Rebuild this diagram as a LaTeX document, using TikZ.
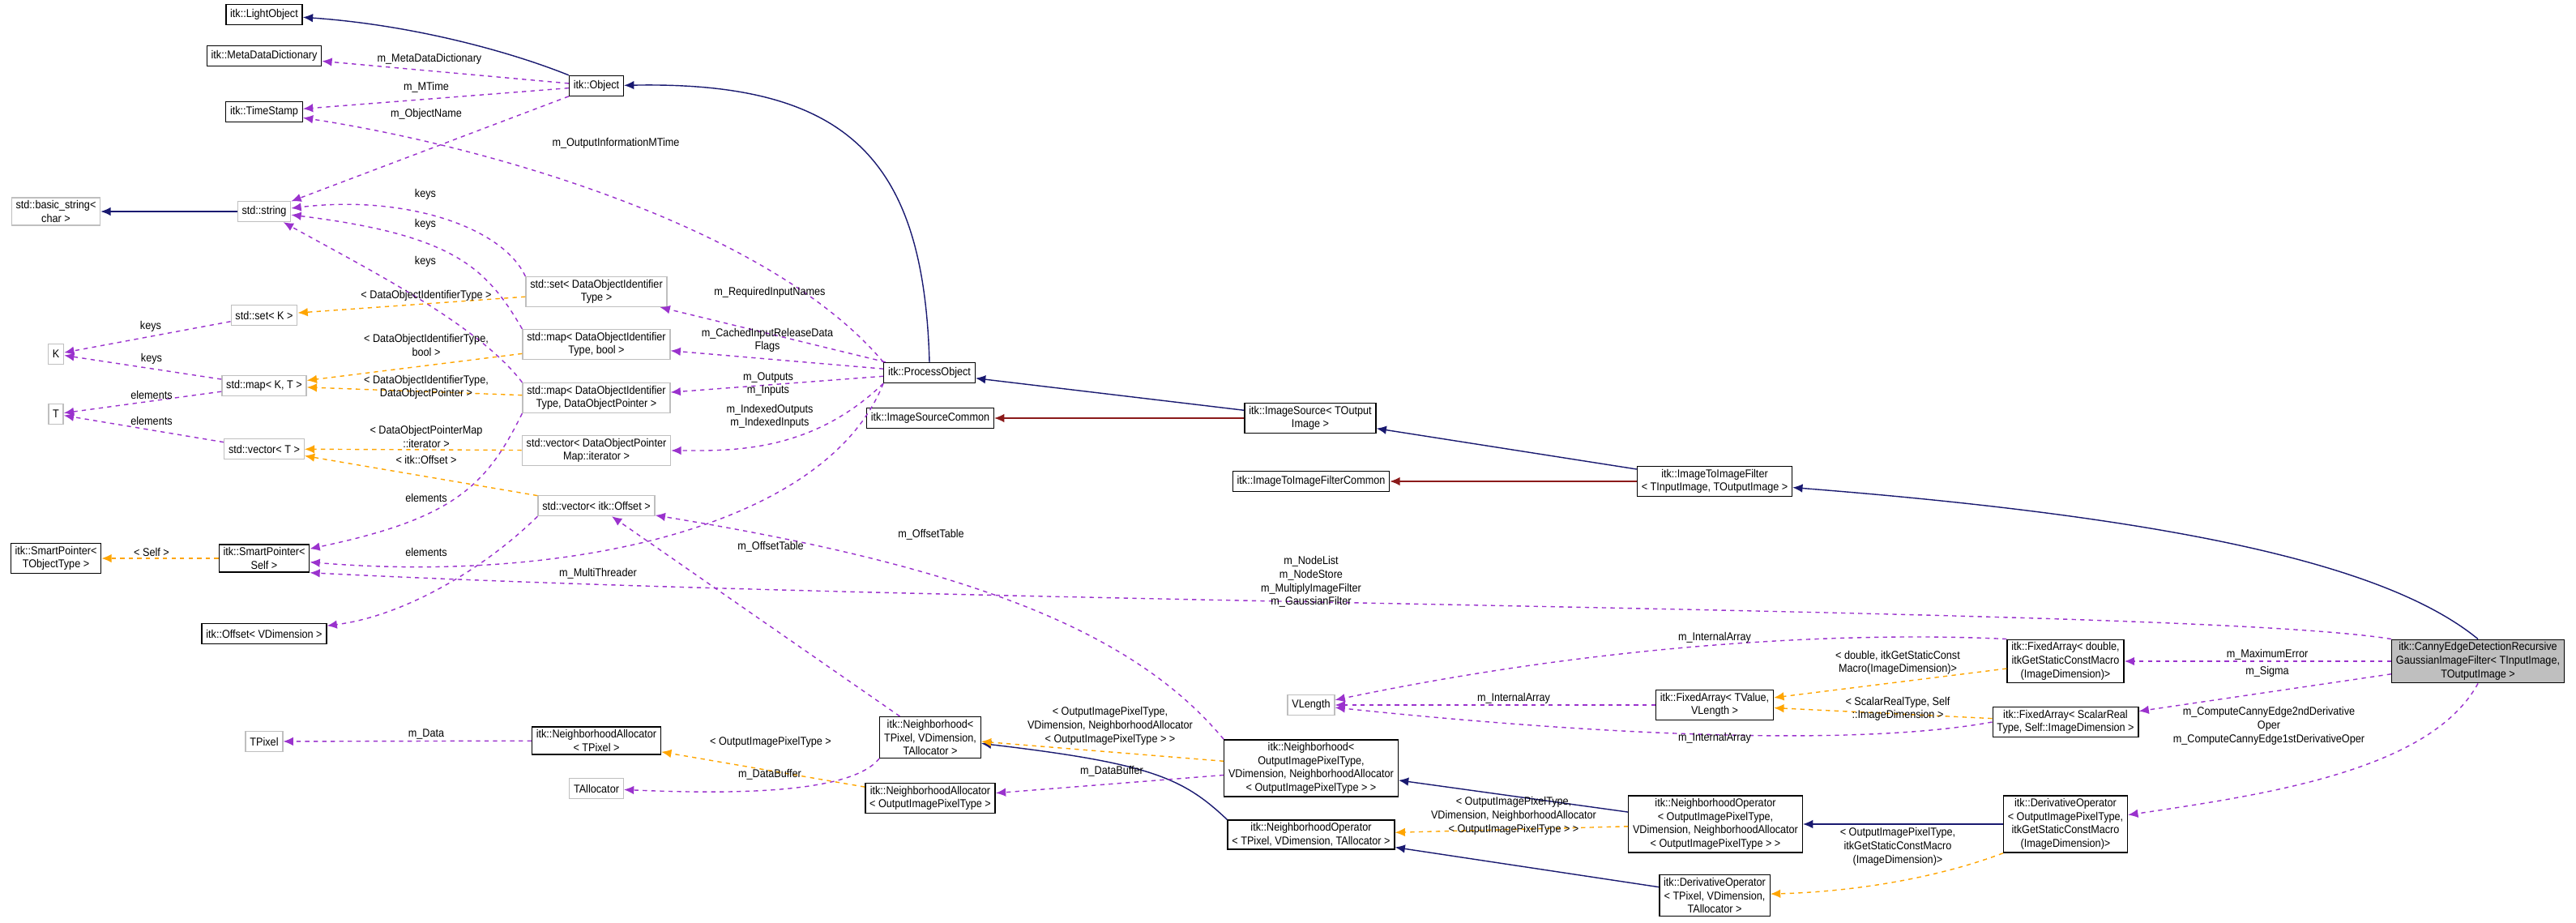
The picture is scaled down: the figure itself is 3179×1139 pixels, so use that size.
\documentclass[tikz,border=0pt]{standalone}
\usepackage{fontspec}
\setmainfont[FakeStretch=0.9]{Liberation Sans}
\usetikzlibrary{arrows.meta}
\definecolor{inhcol}{HTML}{191970}
\definecolor{privcol}{HTML}{8B1A1A}
\definecolor{usecol}{HTML}{9A32CD}
\definecolor{tmplcol}{HTML}{FFA500}
\tikzset{
  cls/.style={draw=black, thick, fill=white, align=center, inner xsep=3pt, inner ysep=2pt, minimum height=0.5cm, font=\fontsize{8}{9.5}\selectfont},
  ext/.style={cls, draw=black!25},
  main/.style={cls, fill=black!25},
  lbl/.style={align=center, inner sep=1pt, font=\fontsize{8}{9.5}\selectfont},
  tip/.style={-{Latex[length=7pt,width=6pt]}},
  inh/.style={tip, draw=inhcol, thick},
  priv/.style={tip, draw=privcol, thick},
  use/.style={tip, draw=usecol, dashed, thick},
  tmpl/.style={tip, draw=tmplcol, dashed, thick}
}
\begin{document}
\begin{tikzpicture}[x=0.02cm, y=-0.02cm]
    \useasboundingbox (0,0) rectangle (3179,1139);

    % itk core objects
    \node[cls] (light) at (326,18) {itk::LightObject};
    \node[cls] (meta) at (326,69) {itk::MetaDataDictionary};
    \node[cls] (stamp) at (326,138) {itk::TimeStamp};
    \node[cls] (object) at (736,106) {itk::Object};
    \node[ext] (bstring) at (69,261) {std::basic\_string\textless\\char \textgreater};
    \node[ext] (string) at (326,261) {std::string};
    \node[ext] (setk) at (326,389) {std::set\textless{} K \textgreater};
    \node[ext] (k) at (69,437) {K};
    \node[ext] (mapkt) at (326,476) {std::map\textless{} K, T \textgreater};
    \node[ext] (t) at (69,511) {T};
    \node[ext] (vect) at (326,554) {std::vector\textless{} T \textgreater};
    \node[cls] (sptype) at (69,689) {itk::SmartPointer\textless\\TObjectType \textgreater};
    \node[cls] (spself) at (326,689) {itk::SmartPointer\textless\\Self \textgreater};
    \node[cls] (offset) at (326,782) {itk::Offset\textless{} VDimension \textgreater};

    % containers of the process object
    \node[ext] (setid) at (736,360) {std::set\textless{} DataObjectIdentifier\\Type \textgreater};
    \node[ext] (mapbool) at (736,425) {std::map\textless{} DataObjectIdentifier\\Type, bool \textgreater};
    \node[ext] (mapptr) at (736,491) {std::map\textless{} DataObjectIdentifier\\Type, DataObjectPointer \textgreater};
    \node[ext] (vecit) at (736,556) {std::vector\textless{} DataObjectPointer\\Map::iterator \textgreater};
    \node[ext] (vecoff) at (736,624) {std::vector\textless{} itk::Offset \textgreater};

    % filter hierarchy
    \node[cls] (process) at (1147,460) {itk::ProcessObject};
    \node[cls] (srccommon) at (1148,516) {itk::ImageSourceCommon};
    \node[cls] (source) at (1617,516) {itk::ImageSource\textless{} TOutput\\Image \textgreater};
    \node[cls] (filtcommon) at (1618,594) {itk::ImageToImageFilterCommon};
    \node[cls] (filter) at (2116,594) {itk::ImageToImageFilter\\\textless{} TInputImage, TOutputImage \textgreater};
    \node[main] (canny) at (3058,816) {itk::CannyEdgeDetectionRecursive\\GaussianImageFilter\textless{} TInputImage,\\TOutputImage \textgreater};

    % neighborhoods and operators
    \node[ext] (tpixel) at (326,915) {TPixel};
    \node[cls] (allocpix) at (736,914) {itk::NeighborhoodAllocator\\\textless{} TPixel \textgreater};
    \node[ext] (talloc) at (736,973) {TAllocator};
    \node[cls] (nbhpix) at (1148,910) {itk::Neighborhood\textless\\TPixel, VDimension,\\TAllocator \textgreater};
    \node[cls] (allocout) at (1148,985) {itk::NeighborhoodAllocator\\\textless{} OutputImagePixelType \textgreater};
    \node[ext] (vlength) at (1618,870) {VLength};
    \node[cls] (nbhout) at (1618,948) {itk::Neighborhood\textless\\OutputImagePixelType,\\VDimension, NeighborhoodAllocator\\\textless{} OutputImagePixelType \textgreater{} \textgreater};
    \node[cls] (oppix) at (1618,1030) {itk::NeighborhoodOperator\\\textless{} TPixel, VDimension, TAllocator \textgreater};
    \node[cls] (fatv) at (2116,870) {itk::FixedArray\textless{} TValue,\\VLength \textgreater};
    \node[cls] (opout) at (2117,1017) {itk::NeighborhoodOperator\\\textless{} OutputImagePixelType,\\VDimension, NeighborhoodAllocator\\\textless{} OutputImagePixelType \textgreater{} \textgreater};
    \node[cls] (derpix) at (2116,1105) {itk::DerivativeOperator\\\textless{} TPixel, VDimension,\\TAllocator \textgreater};
    \node[cls] (fadouble) at (2549,816) {itk::FixedArray\textless{} double,\\itkGetStaticConstMacro\\(ImageDimension)\textgreater};
    \node[cls] (fascalar) at (2549,891) {itk::FixedArray\textless{} ScalarReal\\Type, Self::ImageDimension \textgreater};
    \node[cls] (derout) at (2549,1017) {itk::DerivativeOperator\\\textless{} OutputImagePixelType,\\itkGetStaticConstMacro\\(ImageDimension)\textgreater};

    % inheritance
    \draw[inh] (object.north west) .. controls (620,60) and (500,30) .. (light);
    \draw[inh] (process.north) .. controls (1140,200) and (1050,100) .. (object);
    \draw[inh] (source) -- (process);
    \draw[inh] (filter) -- (source);
    \draw[inh] (canny.north) .. controls (2950,700) and (2700,640) .. (filter);
    \draw[inh] (string) -- (bstring);
    \draw[inh] (oppix.north west) .. controls (1460,960) and (1420,942) .. (nbhpix);
    \draw[inh] (opout) -- (nbhout);
    \draw[inh] (derout) -- (opout);
    \draw[inh] (derpix) -- (oppix);
    \draw[priv] (source) -- (srccommon);
    \draw[priv] (filter) -- (filtcommon);

    % usage
    \draw[use] (object) -- (meta);
    \draw[use] (object) -- (stamp);
    \draw[use] (object) -- (string);
    \draw[use] (process.north west) .. controls (950,280) and (600,180) .. (stamp);
    \draw[use] (setid.north west) .. controls (620,280) and (500,240) .. (string);
    \draw[use] (mapbool.north west) .. controls (600,330) and (560,290) .. (string);
    \draw[use] (mapptr.north west) .. controls (590,400) and (450,330) .. (string);
    \draw[use] (setk) -- (k);
    \draw[use] (mapkt) -- (k);
    \draw[use] (mapkt) -- (t);
    \draw[use] (vect) -- (t);
    \draw[use] (mapptr.south west) .. controls (600,600) and (560,640) .. (spself);
    \draw[use] (vecoff.south west) .. controls (600,700) and (500,760) .. (offset);
    \draw[use] (process) -- (setid);
    \draw[use] (process) -- (mapbool);
    \draw[use] (process) -- (mapptr);
    \draw[use] (process.south west) .. controls (1000,560) and (900,556) .. (vecit);
    \draw[use] (process.south west) .. controls (1020,650) and (700,720) .. (spself);
    \draw[use] (canny.north west) .. controls (2700,748) and (1200,748) .. (spself.south east);
    \draw[use] (nbhpix) -- (vecoff);
    \draw[use] (nbhout.north west) .. controls (1400,780) and (1200,700) .. (vecoff);
    \draw[use] (allocpix) -- (tpixel);
    \draw[use] (nbhpix.south west) .. controls (1050,980) and (900,980) .. (talloc);
    \draw[use] (nbhout) -- (allocout);
    \draw[use] (fadouble.north west) .. controls (2300,780) and (2000,790) .. (vlength);
    \draw[use] (fatv) -- (vlength);
    \draw[use] (fascalar.west) .. controls (2300,920) and (2000,910) .. (vlength);
    \draw[use, very thick] (canny) -- (fadouble);
    \draw[use] (canny) -- (fascalar);
    \draw[use] (canny.south) .. controls (3000,950) and (2800,980) .. (derout);

    % template instances
    \draw[tmpl] (spself) -- (sptype);
    \draw[tmpl] (setid) -- (setk);
    \draw[tmpl] (mapbool) -- (mapkt);
    \draw[tmpl] (mapptr) -- (mapkt);
    \draw[tmpl] (vecit) -- (vect);
    \draw[tmpl] (vecoff) -- (vect);
    \draw[tmpl] (allocout) -- (allocpix);
    \draw[tmpl] (nbhout) -- (nbhpix);
    \draw[tmpl] (opout) -- (oppix);
    \draw[tmpl] (fadouble) -- (fatv);
    \draw[tmpl] (fascalar) -- (fatv);
    \draw[tmpl] (derout.south west) .. controls (2400,1080) and (2300,1100) .. (derpix);

    % labels
    \node[lbl] (lmeta) at (530,73) {m\_MetaDataDictionary};
    \node[lbl] (lmtime) at (526,108) {m\_MTime};
    \node[lbl] (lname) at (526,141) {m\_ObjectName};
    \node[lbl] (linfo) at (760,177) {m\_OutputInformationMTime};
    \node[lbl] (lkeys1) at (525,240) {keys};
    \node[lbl] (lkeys2) at (525,277) {keys};
    \node[lbl] (lkeys3) at (525,323) {keys};
    \node[lbl] (lsetid) at (526,365) {\textless{} DataObjectIdentifierType \textgreater};
    \node[lbl] (lkeys4) at (186,403) {keys};
    \node[lbl] (lkeys5) at (187,443) {keys};
    \node[lbl] (lel1) at (187,487) {elements};
    \node[lbl] (lel2) at (187,519) {elements};
    \node[lbl] (lmapbool) at (526,426) {\textless{} DataObjectIdentifierType,\\bool \textgreater};
    \node[lbl] (lmapptr) at (526,478) {\textless{} DataObjectIdentifierType,\\DataObjectPointer \textgreater};
    \node[lbl] (lvecit) at (526,539) {\textless{} DataObjectPointerMap\\::iterator \textgreater};
    \node[lbl] (lvecoff) at (526,567) {\textless{} itk::Offset \textgreater};
    \node[lbl] (lel3) at (526,614) {elements};
    \node[lbl] (lel4) at (526,681) {elements};
    \node[lbl] (lself) at (187,681) {\textless{} Self \textgreater};
    \node[lbl] (lthread) at (738,708) {m\_MultiThreader};
    \node[lbl] (lreq) at (950,361) {m\_RequiredInputNames};
    \node[lbl] (lcached) at (947,420) {m\_CachedInputReleaseData\\Flags};
    \node[lbl] (lout) at (948,474) {m\_Outputs\\m\_Inputs};
    \node[lbl] (lidx) at (950,514) {m\_IndexedOutputs\\m\_IndexedInputs};
    \node[lbl] (loff1) at (951,675) {m\_OffsetTable};
    \node[lbl] (loff2) at (1149,660) {m\_OffsetTable};
    \node[lbl] (ldata) at (526,906) {m\_Data};
    \node[lbl] (lallocout) at (951,916) {\textless{} OutputImagePixelType \textgreater};
    \node[lbl] (lbuf1) at (950,956) {m\_DataBuffer};
    \node[lbl] (lbuf2) at (1372,952) {m\_DataBuffer};
    \node[lbl] (lnbhout) at (1370,896) {\textless{} OutputImagePixelType,\\VDimension, NeighborhoodAllocator\\\textless{} OutputImagePixelType \textgreater{} \textgreater};
    \node[lbl] (lopout) at (1868,1007) {\textless{} OutputImagePixelType,\\VDimension, NeighborhoodAllocator\\\textless{} OutputImagePixelType \textgreater{} \textgreater};
    \node[lbl] (lnodes) at (1618,718) {m\_NodeList\\m\_NodeStore\\m\_MultiplyImageFilter\\m\_GaussianFilter};
    \node[lbl] (larr1) at (1868,862) {m\_InternalArray};
    \node[lbl] (larr2) at (2116,787) {m\_InternalArray};
    \node[lbl] (larr3) at (2116,911) {m\_InternalArray};
    \node[lbl] (lfadouble) at (2342,818) {\textless{} double, itkGetStaticConst\\Macro(ImageDimension)\textgreater};
    \node[lbl] (lfascalar) at (2342,875) {\textless{} ScalarRealType, Self\\::ImageDimension \textgreater};
    \node[lbl] (lmax) at (2798,808) {m\_MaximumError};
    \node[lbl] (lsigma) at (2798,829) {m\_Sigma};
    \node[lbl] (lderiv) at (2800,896) {m\_ComputeCannyEdge2ndDerivative\\Oper\\m\_ComputeCannyEdge1stDerivativeOper};
    \node[lbl] (lderout) at (2342,1045) {\textless{} OutputImagePixelType,\\itkGetStaticConstMacro\\(ImageDimension)\textgreater};
\end{tikzpicture}
\end{document}
